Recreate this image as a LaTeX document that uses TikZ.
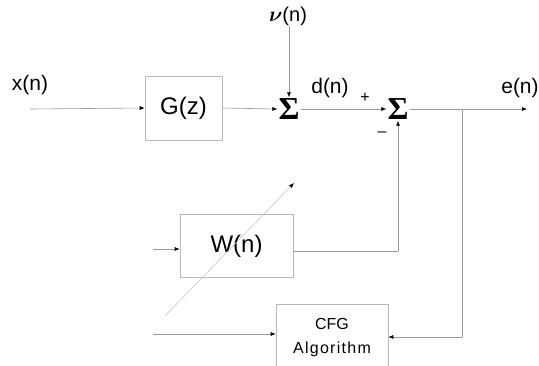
\documentclass[tikz,border=0pt]{standalone}
\usepackage{fontspec}
\setmainfont{Liberation Sans}
\newfontfamily\sigfont{Liberation Serif}
\usepackage{amsmath}
\usepackage{bm}
\usetikzlibrary{arrows.meta}
\begin{document}
\begin{tikzpicture}[x=1pt,y=-1pt,
  line/.style={draw=black!40, line width=0.6pt},
  arr/.style={line, -{Latex[length=5pt,width=4pt,fill=black,color=black]}},
  blockbox/.style={draw=black!28, line width=0.6pt, inner sep=0pt},
  lbl/.style={font=\fontsize{21}{21}\selectfont, inner sep=0pt},
  sumnode/.style={inner sep=1pt, font=\sigfont\bfseries\fontsize{32}{32}\selectfont},
  sign/.style={font=\fontsize{16}{16}\selectfont, inner sep=0pt}]
\useasboundingbox (0,0) rectangle (539,365);
\clip (0,0) rectangle (539,365);

% blocks
\node[blockbox, minimum width=77pt, minimum height=64pt,
      font=\fontsize{24}{24}\selectfont] (G) at (183.5,108) {G(z)};
\node[blockbox, minimum width=113pt, minimum height=63pt,
      font=\fontsize{24}{24}\selectfont] (W) at (236.5,246) {W(n)};
\node[blockbox, minimum width=112pt, minimum height=68pt, align=center,
      font=\fontsize{16}{24}\selectfont] (CFG) at (332,338)
      {CFG\\\addfontfeature{LetterSpace=8}Algorithm};

% summing junctions
\node[sumnode] (S1) at (289,109) {Σ};
\node[sumnode] (S2) at (398,109) {Σ};

% labels
\node[lbl] (xl) at (30,85) {x(n)};
\node[lbl] (dl) at (330,88) {d(n)};
\node[lbl] (el) at (520,88) {e(n)};
\node[font=\fontsize{20}{20}\selectfont, inner sep=0pt] (nu) at (288,16) {$\bm{\nu}$(n)};
\node[sign] (plus) at (365,98) {+};
\node[sign] (minus) at (382,134) {–};

% coordinates
\coordinate (xin) at (30,109);
\coordinate (eout) at (527,109);
\coordinate (tap) at (462,109);
\coordinate (tapbot) at (462,337);
\coordinate (wcorner) at (398,251);
\coordinate (cfgin) at (153,334);
\coordinate (win) at (153,249);
\coordinate (adS) at (165,316);
\coordinate (adE) at (294,183);

% connectors
\draw[arr] (xin) -- (G.west);
\draw[arr] (G.east) -- (S1.west);
\draw[arr] (S1 |- nu.south) -- (S1.north);
\draw[arr] (S1.east) -- (S2.west);
\draw[arr] (S2.east) -- (eout);
\draw[line] (tap) -- (tapbot);
\draw[arr] (tapbot) -- (CFG.east |- tapbot);
\draw[line] (W.east |- wcorner) -- (wcorner);
\draw[arr] (wcorner) -- (S2.south);
\draw[arr] (cfgin) -- (CFG.west |- cfgin);
\draw[arr] (win) -- (W.west |- win);
\draw[arr, draw=black!22] (adS) -- (adE);
\end{tikzpicture}
\end{document}
